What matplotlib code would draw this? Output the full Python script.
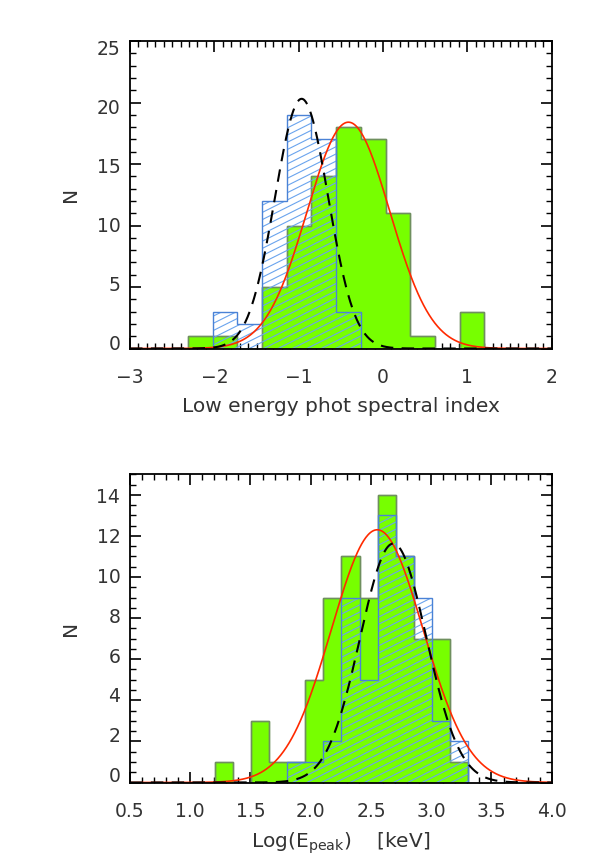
import numpy as np
import matplotlib
matplotlib.use("Agg")
import matplotlib.pyplot as plt
from matplotlib.collections import LineCollection
from matplotlib.ticker import MultipleLocator, FixedLocator
from matplotlib.transforms import ScaledTranslation

# ---------------- data ----------------
# Top panel: low-energy photon spectral index
alpha_edges = [-2.313, -2.020, -1.727, -1.434, -1.141, -0.848, -0.555,
               -0.262, 0.031, 0.324, 0.617, 0.910, 1.203]
alpha_green = [1, 1, 0, 5, 10, 14, 18, 17, 11, 1, 0, 3]
alpha_blue = [0, 3, 2, 12, 19, 17, 3, 0, 0, 0, 0, 0]
# Gaussian fits (amplitude, mean, sigma)
alpha_fit_red = (18.4, -0.41, 0.49)
alpha_fit_black = (20.3, -0.965, 0.315)

# Bottom panel: Log(Epeak)
ep_edges = [1.205, 1.355, 1.505, 1.655, 1.805, 1.955, 2.105, 2.255,
            2.405, 2.555, 2.705, 2.855, 3.005, 3.155, 3.305]
ep_green = [1, 0, 3, 1, 1, 5, 9, 11, 9, 14, 11, 7, 7, 1]
ep_blue = [0, 0, 0, 0, 1, 1, 2, 9, 5, 13, 11, 9, 3, 2]
ep_fit_red = (12.3, 2.552, 0.38)
ep_fit_black = (11.63, 2.685, 0.275)

top_xticks = [-3, -2, -1, 0, 1, 2]
top_xticklabels = ["\u22123", "\u22122", "\u22121", "0", "1", "2"]
top_yticks = [0, 5, 10, 15, 20, 25]
bot_xticks = [0.5, 1.0, 1.5, 2.0, 2.5, 3.0, 3.5, 4.0]
bot_xticklabels = ["0.5", "1.0", "1.5", "2.0", "2.5", "3.0", "3.5", "4.0"]
bot_yticks = [0, 2, 4, 6, 8, 10, 12, 14]

# ---------------- style ----------------
GREEN = "#77ff00"
GREEN_EDGE = "#6f8f5f"
BLUE_EDGE = "#4a82d6"
BLUE_HATCH = "#6aa4ee"
TEXT = "#333333"
FS = 13.5
LFS = 14.5

plt.rcParams["font.family"] = ["DejaVu Sans"]

W, H = 591, 866
fig = plt.figure(figsize=(W / 100, H / 100), dpi=100)
ax1 = fig.add_axes([130 / W, 1 - 348.5 / H, 421.7 / W, 307.5 / H])
ax2 = fig.add_axes([130 / W, 1 - 782.5 / H, 421.7 / W, 308.2 / H])


def hatch_fill(ax, edges, counts):
    clip = ax.stairs(counts, edges, fill=True, facecolor="none",
                     edgecolor="none", zorder=3)
    bb = ax.get_position()
    wpx = bb.width * W
    hpx = bb.height * H
    slope = 0.5
    spacing = 7.2
    segs = []
    c = -slope * wpx
    while c < hpx:
        segs.append([(0, c / hpx), (1, (c + slope * wpx) / hpx)])
        c += spacing
    lc = LineCollection(segs, colors=BLUE_HATCH, linewidths=0.8,
                        transform=ax.transAxes, zorder=3)
    lc.set_clip_path(clip)
    ax.add_collection(lc)
    ax.stairs(counts, edges, fill=False, color=BLUE_EDGE, linewidth=1.0,
              zorder=4)


def gauss(ax, x, p, **kw):
    a, m, s = p
    ax.plot(x, a * np.exp(-(x - m) ** 2 / (2 * s ** 2)), **kw)


def draw(ax, edges, green, blue, fr, fb, xlim):
    ax.stairs(green, edges, fill=True, facecolor=GREEN, edgecolor=GREEN_EDGE,
              linewidth=1.0, zorder=2)
    ax.stairs(green, edges, fill=False, color=GREEN_EDGE, linewidth=1.0,
              zorder=2)
    hatch_fill(ax, edges, blue)
    x = np.linspace(xlim[0], xlim[1], 600)
    gauss(ax, x, fr, color="#ff2a00", lw=1.2, zorder=5)
    gauss(ax, x, fb, color="black", lw=1.5, ls=(0, (6, 4)), zorder=6)


draw(ax1, alpha_edges, alpha_green, alpha_blue, alpha_fit_red,
     alpha_fit_black, (-3, 2))
draw(ax2, ep_edges, ep_green, ep_blue, ep_fit_red, ep_fit_black, (0.5, 4.0))

ax1.set_xlim(-3, 2)
ax1.set_ylim(0, 25)
ax1.xaxis.set_major_locator(FixedLocator(top_xticks))
ax1.set_xticklabels(top_xticklabels)
ax1.xaxis.set_minor_locator(MultipleLocator(0.1))
ax1.yaxis.set_major_locator(FixedLocator(top_yticks))
ax1.yaxis.set_minor_locator(MultipleLocator(1))
ax1.set_xlabel("Low energy phot spectral index", fontsize=LFS, color=TEXT,
               labelpad=7)
ax1.set_ylabel("N", fontsize=LFS, color=TEXT, labelpad=12)

ax2.set_xlim(0.5, 4.0)
ax2.set_ylim(0, 15)
ax2.xaxis.set_major_locator(FixedLocator(bot_xticks))
ax2.set_xticklabels(bot_xticklabels)
ax2.xaxis.set_minor_locator(MultipleLocator(0.1))
ax2.yaxis.set_major_locator(FixedLocator(bot_yticks))
ax2.yaxis.set_minor_locator(MultipleLocator(0.5))
ax2.set_xlabel(r"Log(E$_{\rm peak}$)    [keV]", fontsize=LFS, color=TEXT,
               labelpad=7)
ax2.set_ylabel("N", fontsize=LFS, color=TEXT, labelpad=12)

for ax in (ax1, ax2):
    for sp in ax.spines.values():
        sp.set_linewidth(1.3)
        sp.set_color("black")
        sp.set_zorder(10)
    ax.tick_params(which="both", direction="in", top=True, right=True,
                   colors="black", labelcolor=TEXT, labelsize=FS)
    ax.tick_params(which="major", length=8, width=1.2)
    ax.tick_params(which="minor", length=4, width=1.0)
    ax.tick_params(axis="x", which="major", pad=14)
    ax.tick_params(axis="y", which="major", pad=7)

# small vertical offsets of the y tick labels, as in the original rendering
for ax, vmax, lo, hi in ((ax1, 25, -6.0, 6.5), (ax2, 14, -8.0, 1.0)):
    for tick, v in zip(ax.yaxis.get_major_ticks(), ax.get_yticks()):
        off = lo + (hi - lo) * v / vmax
        tick.label1.set_transform(
            tick.label1.get_transform()
            + ScaledTranslation(0, -off / 100, fig.dpi_scale_trans))

fig.savefig("out.png", dpi=100)
